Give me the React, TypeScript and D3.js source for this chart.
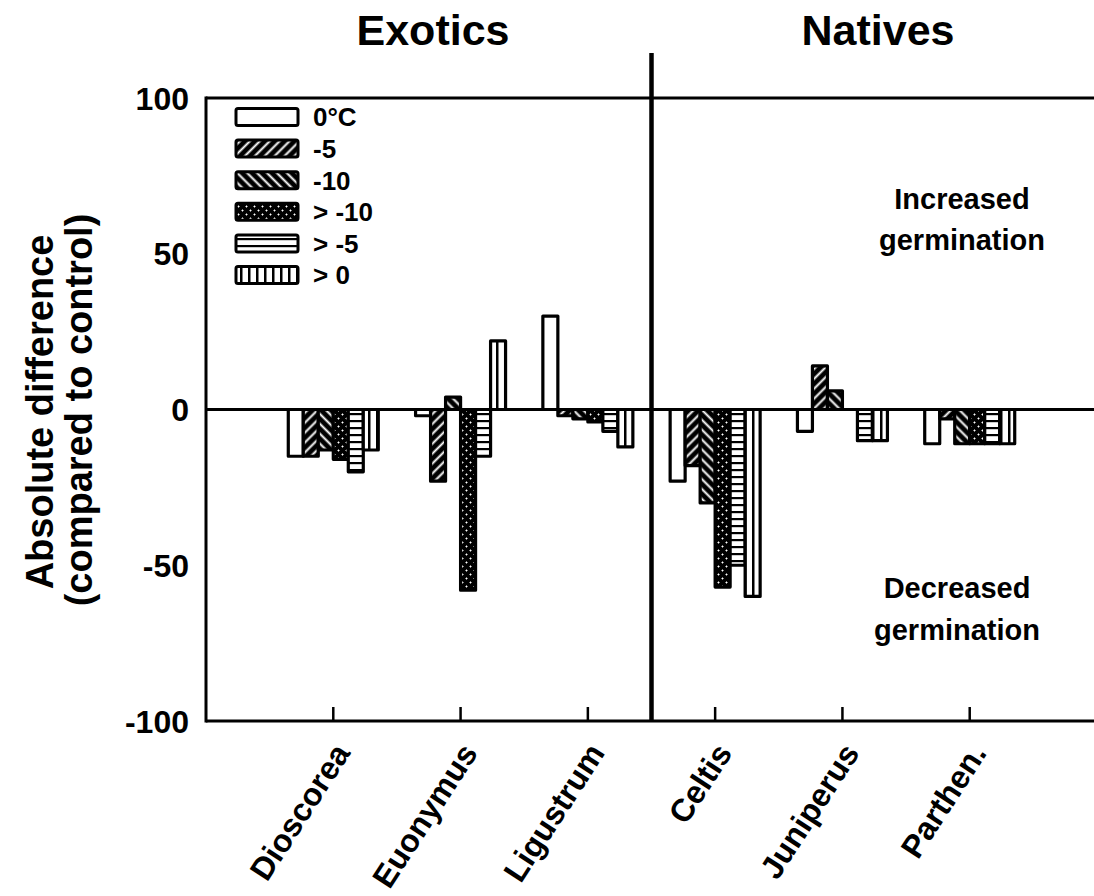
import React from "react";
import * as d3 from "d3";

const species = ["Dioscorea", "Euonymus", "Ligustrum", "Celtis", "Juniperus", "Parthen."];
const treatments = ["0°C", "-5", "-10", "> -10", "> -5", "> 0"];
const patternIds = ["pWhite", "pFwd", "pBack", "pDots", "pHoriz", "pVert"];

const v0C = [-15, -2, 30, -23, -7, -11];
const vMinus5 = [-15, -23, -2, -18, 14, -3];
const vMinus10 = [-13, 4, -3, -30, 6, -11];
const vAfterMinus10 = [-16, -58, -4, -57, 0, -11];
const vAfterMinus5 = [-20, -15, -7, -50, -10, -11];
const vAfter0 = [-13, 22, -12, -60, -10, -11];
const seriesValues = [v0C, vMinus5, vMinus10, vAfterMinus10, vAfterMinus5, vAfter0];

const yTicks = [100, 50, 0, -50, -100];

const W = 1094;
const H = 896;
const FONT = "'Liberation Sans', Arial, Helvetica, sans-serif";

export default function App() {
  const x = d3.scaleLinear().domain([0, 7]).range([206, 1097]);
  const y = d3.scaleLinear().domain([-100, 100]).range([721, 98]);
  const barW = 15;
  const nT = treatments.length;

  const bars: JSX.Element[] = [];
  seriesValues.forEach((vals, ti) => {
    vals.forEach((v, si) => {
      if (v === 0) return;
      const cx = x(si + 1);
      const bx = cx - (nT * barW) / 2 + ti * barW;
      const y0 = y(0);
      const y1 = y(v);
      bars.push(
        <rect
          key={`b-${ti}-${si}`}
          x={bx}
          y={Math.min(y0, y1)}
          width={barW}
          height={Math.abs(y1 - y0)}
          fill={`url(#${patternIds[ti]})`}
          stroke="#000"
          strokeWidth={3.2}
          strokeLinejoin="round"
        />
      );
    });
  });

  return (
    <svg
      width={W}
      height={H}
      style={{ position: "absolute", left: 0, top: 0, background: "#fff" }}
      fontFamily={FONT}
      fontWeight="bold"
    >
      <defs>
        <pattern id="pWhite" patternUnits="userSpaceOnUse" width={8} height={8}>
          <rect width={8} height={8} fill="#fff" />
        </pattern>
        <pattern id="pFwd" patternUnits="userSpaceOnUse" width={7} height={7} patternTransform="rotate(45)">
          <rect width={7} height={7} fill="#000" />
          <rect x={2.5} width={2} height={7} fill="#fff" />
        </pattern>
        <pattern id="pBack" patternUnits="userSpaceOnUse" width={7} height={7} patternTransform="rotate(-45)">
          <rect width={7} height={7} fill="#000" />
          <rect x={2.5} width={2} height={7} fill="#fff" />
        </pattern>
        <pattern id="pDots" patternUnits="userSpaceOnUse" width={8} height={8}>
          <rect width={8} height={8} fill="#000" />
          <rect x={1.5} y={2} width={2} height={1} fill="#fff" />
          <rect x={2} y={1.5} width={1} height={2} fill="#fff" />
          <rect x={5.5} y={6} width={2} height={1} fill="#fff" />
          <rect x={6} y={5.5} width={1} height={2} fill="#fff" />
        </pattern>
        <pattern id="pHoriz" patternUnits="userSpaceOnUse" width={8} height={7}>
          <rect width={8} height={7} fill="#fff" />
          <rect y={0} width={8} height={2.2} fill="#000" />
        </pattern>
        <pattern id="pVert" patternUnits="userSpaceOnUse" width={8} height={8}>
          <rect width={8} height={8} fill="#fff" />
          <rect x={0} width={2.5} height={8} fill="#000" />
        </pattern>
      </defs>

      {/* Titles */}
      <text x={433} y={45} textAnchor="middle" fontSize={43}>Exotics</text>
      <text x={878} y={45} textAnchor="middle" fontSize={43}>Natives</text>

      {/* Y axis label */}
      <g transform={`translate(53, 412) rotate(-90)`}>
        <text textAnchor="middle" fontSize={38}>Absolute difference</text>
      </g>
      <g transform={`translate(92, 410) rotate(-90)`}>
        <text textAnchor="middle" fontSize={38}>(compared to control)</text>
      </g>

      {/* Y tick labels */}
      {yTicks.map((t) => (
        <text key={`yt-${t}`} x={189} y={y(t)} dy="0.36em" textAnchor="end" fontSize={32}>
          {t}
        </text>
      ))}

      {/* Bars */}
      {bars}

      {/* Zero line */}
      <line x1={x(0)} x2={W} y1={y(0)} y2={y(0)} stroke="#000" strokeWidth={2.8} />

      {/* Frame */}
      <line x1={x(0)} x2={W} y1={y(100)} y2={y(100)} stroke="#000" strokeWidth={3} />
      <line x1={x(0)} x2={W} y1={y(-100)} y2={y(-100)} stroke="#000" strokeWidth={3} />
      <line x1={x(0)} x2={x(0)} y1={y(100) - 1.5} y2={y(-100) + 1.5} stroke="#000" strokeWidth={3} />

      {/* Divider */}
      <line x1={x(3.5)} x2={x(3.5)} y1={53} y2={y(-100)} stroke="#000" strokeWidth={4.5} />

      {/* X ticks & labels */}
      {species.map((s, i) => (
        <g key={`xt-${s}`}>
          <line x1={x(i + 1)} x2={x(i + 1)} y1={y(-100)} y2={y(-100) - 14} stroke="#000" strokeWidth={2.5} />
          <text
            transform={`translate(${x(i + 1) + 18}, 753) rotate(-57)`}
            textAnchor="end"
            fontSize={32}
          >
            {s}
          </text>
        </g>
      ))}

      {/* Legend */}
      {treatments.map((t, i) => {
        const cy = 117 + i * 31.6;
        return (
          <g key={`lg-${t}`}>
            <rect
              x={236}
              y={cy - 8.5}
              width={62}
              height={17}
              rx={2}
              fill={`url(#${patternIds[i]})`}
              stroke="#000"
              strokeWidth={3}
            />
            <text x={313} y={cy} dy="0.36em" fontSize={26}>
              {t}
            </text>
          </g>
        );
      })}

      {/* Annotations */}
      <text x={962} y={209} textAnchor="middle" fontSize={29}>Increased</text>
      <text x={962} y={250} textAnchor="middle" fontSize={29}>germination</text>
      <text x={957} y={598} textAnchor="middle" fontSize={29}>Decreased</text>
      <text x={957} y={640} textAnchor="middle" fontSize={29}>germination</text>
    </svg>
  );
}
